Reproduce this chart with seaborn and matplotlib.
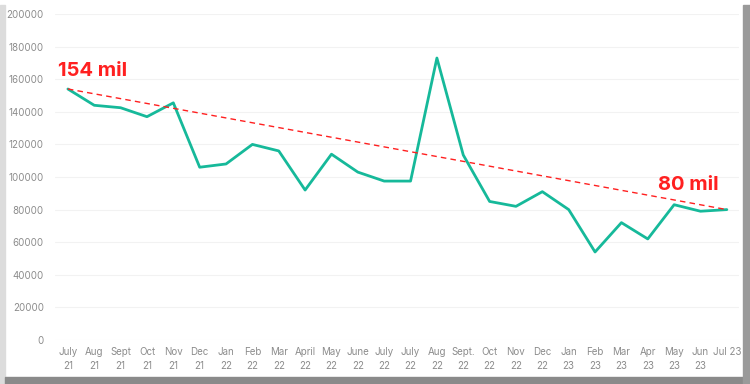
import numpy as np
import pandas as pd
import matplotlib
matplotlib.use("Agg")
import matplotlib.pyplot as plt
from matplotlib.patches import Rectangle
import seaborn as sns

# Data
months = ["July\n21", "Aug\n21", "Sept\n21", "Oct\n21", "Nov\n21", "Dec\n21",
          "Jan\n22", "Feb\n22", "Mar\n22", "April\n22", "May\n22", "June\n22",
          "July\n22", "July\n22", "Aug\n22", "Sept.\n22", "Oct\n22", "Nov\n22",
          "Dec\n22", "Jan\n23", "Feb\n23", "Mar\n23", "Apr\n23", "May\n23",
          "Jun\n23", "Jul 23"]
values = [154000, 144000, 142500, 137000, 145500, 106000,
          108000, 120000, 116000, 92000, 114000, 103000,
          97500, 97500, 173000, 113500, 85000, 82000,
          91000, 80000, 54000, 72000, 62000, 83000,
          79000, 80000]
trend_start = 154000
trend_end = 80000
yticks = [0, 20000, 40000, 60000, 80000, 100000, 120000, 140000, 160000, 180000, 200000]

teal = "#16B99A"
red = "#FF2020"
grey = "#8C8C8C"

sns.set_style("white")
plt.rcParams["font.family"] = ["Inter", "DejaVu Sans"]

df = pd.DataFrame({"pos": np.arange(len(months)), "value": values})

fig = plt.figure(figsize=(7.5, 3.84), dpi=100)
ax = fig.add_axes([0.0733, 0.1146, 0.9120, 0.8489])

ax.grid(axis="y", color="#F2F2F2", linewidth=0.8)
ax.set_axisbelow(True)

sns.lineplot(data=df, x="pos", y="value", color=teal, linewidth=2, ax=ax)

# trend line from first to last month
ax.plot([df["pos"].iloc[0], df["pos"].iloc[-1]], [trend_start, trend_end],
        color=red, linestyle=(0, (4, 3)), linewidth=1)

ax.text(-0.38, 162000, "154 mil", color=red, fontsize=14.5, fontweight="bold",
        ha="left", va="baseline")
ax.text(24.7, 92000, "80 mil", color=red, fontsize=14.5, fontweight="bold",
        ha="right", va="baseline")

ax.set_xlim(-0.49, 25.46)
ax.set_ylim(0, 200000)
ax.set_xticks(df["pos"])
ax.set_xticklabels(months, fontsize=7, color=grey, linespacing=1.5)
ax.set_yticks(yticks)
ax.set_yticklabels([str(v) for v in yticks], fontsize=7, color=grey)
ax.tick_params(axis="both", length=0, pad=5)
ax.tick_params(axis="y", pad=8)
ax.set_xlabel("")
ax.set_ylabel("")
sns.despine(ax=ax, left=True, bottom=True)

# picture frame
fig.patches.append(Rectangle((0, 0), 5 / 750, 1 - 5 / 384, transform=fig.transFigure,
                             color="#DCDCDC", zorder=0))
fig.patches.append(Rectangle((5 / 750, 0), 1, 7 / 384, transform=fig.transFigure,
                             color="#8A8A8A", zorder=0))
fig.patches.append(Rectangle((743 / 750, 0), 7 / 750, 1 - 5 / 384, transform=fig.transFigure,
                             color="#9A9A9A", zorder=0))

fig.savefig("out.png", dpi=100)
